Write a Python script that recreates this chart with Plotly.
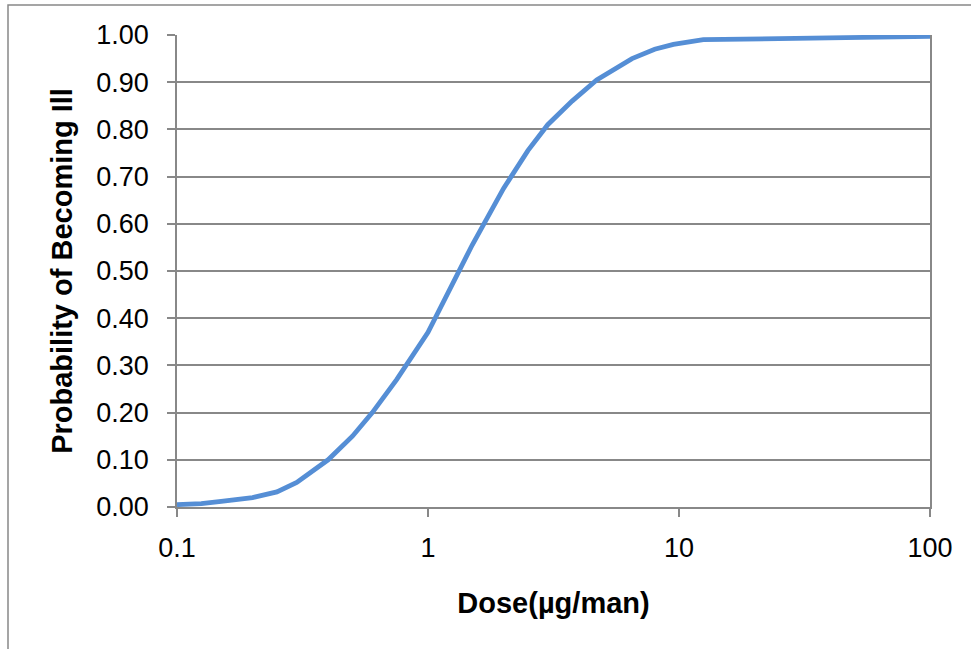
import plotly.graph_objects as go

# Data
dose = [0.1, 0.125, 0.15, 0.2, 0.25, 0.3, 0.4, 0.5, 0.6, 0.75, 1.0, 1.25, 1.5,
        2.0, 2.5, 3.0, 3.75, 4.7, 6.5, 8.0, 9.5, 12.5, 100]
prob = [0.005, 0.007, 0.012, 0.02, 0.032, 0.052, 0.10, 0.15, 0.20, 0.27, 0.37,
        0.47, 0.555, 0.675, 0.755, 0.81, 0.86, 0.905, 0.95, 0.97, 0.98, 0.99, 0.997]

x_tickvals = [0.1, 1, 10, 100]
x_ticktext = ["0.1", "1", "10", "100"]
x_title = "Dose(µg/man)"
y_title = "Probability of Becoming Ill"

GRID = "#888888"
FONT = "Liberation Sans, Arial, sans-serif"

fig = go.Figure()
fig.add_trace(go.Scatter(
    x=dose, y=prob, mode="lines",
    line=dict(color="#558ED5", width=4.8),
    hoverinfo="skip", showlegend=False,
))

W, H = 971, 649
L, R, T, B = 177, 930, 35, 507

fig.update_layout(
    width=W, height=H,
    margin=dict(l=L, r=W - R, t=T, b=H - B, pad=0),
    paper_bgcolor="white", plot_bgcolor="white",
    font=dict(family=FONT, color="black", size=27),
    showlegend=False,
    xaxis=dict(
        type="log", range=[-1, 2],
        tickvals=x_tickvals, ticktext=x_ticktext,
        showgrid=False, zeroline=False,
        showline=True, linecolor=GRID, linewidth=1.5, mirror=False,
        ticks="outside", ticklen=8, tickcolor=GRID, tickwidth=1.5,
        tickfont=dict(size=27, family=FONT, color="black"),
        ticklabelstandoff=8,
        title=dict(text="<b>" + x_title + "</b>", font=dict(size=29, family=FONT, color="black"),
                   standoff=31),
    ),
    yaxis=dict(
        range=[0, 1], dtick=0.1, tick0=0, tickformat=".2f",
        showgrid=True, gridcolor=GRID, gridwidth=1.5,
        zeroline=False,
        showline=True, linecolor=GRID, linewidth=1.5, mirror=True,
        ticks="outside", ticklen=8, tickcolor=GRID, tickwidth=1.5,
        tickfont=dict(size=27, family=FONT, color="black"),
        ticklabelstandoff=13,
        title=dict(text="<b>" + y_title + "</b>", font=dict(size=29, family=FONT, color="black"),
                   standoff=15),
    ),
)

# outer chart frame (top and left edges visible, rest runs off the page)
def px_to_paper_x(px):
    return (px - L) / (R - L)

def py_to_paper_y(py):
    return (B - py) / (B - T)

fig.add_shape(type="rect", xref="paper", yref="paper",
              x0=px_to_paper_x(8), x1=px_to_paper_x(990),
              y0=py_to_paper_y(670), y1=py_to_paper_y(5),
              line=dict(color=GRID, width=1.5), fillcolor="rgba(0,0,0,0)", layer="below")

fig.write_html("out.html")
